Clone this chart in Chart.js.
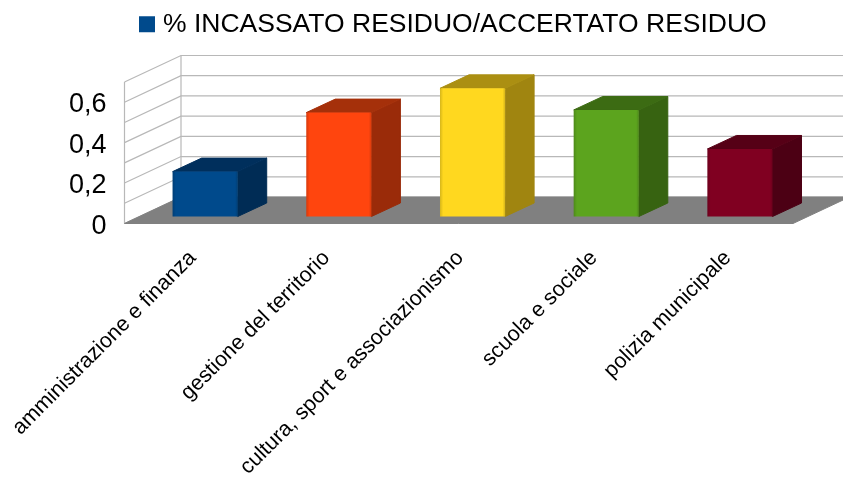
<!DOCTYPE html>
<html>
<head>
<meta charset="utf-8">
<title>% incassato residuo</title>
<script src="https://cdn.jsdelivr.net/npm/chart.js@4/dist/chart.umd.min.js"></script>
<style>
  html, body { margin: 0; padding: 0; background: #fff; }
  canvas { display: block; }
</style>
</head>
<body>
<canvas id="chart" width="843" height="482"></canvas>
<script>
const seriesName = '% INCASSATO RESIDUO/ACCERTATO RESIDUO';
const categories = [
  'amministrazione e finanza',
  'gestione del territorio',
  'cultura, sport e associazionismo',
  'scuola e sociale',
  'polizia municipale'
];
const values = [0.222, 0.514, 0.634, 0.527, 0.334];

const frontColors = ['#004a8c', '#ff450e', '#ffd81f', '#5ca41e', '#800021'];
const sideColors = ['#002c55', '#9a2b09', '#a08510', '#376311', '#4c0014'];
const topColors = ['#002f5c', '#a5300a', '#ab8f12', '#3c6b13', '#560016'];

const font = 'Liberation Sans, Arial, sans-serif';
const gridColor = '#b8b8b8';
const floorColor = '#808080';

// oblique offset of the back wall from the front plane, and of the bars
const wallDx = 56.5, wallDy = -26.5;
const barDx = 13.8, barDy = -7;
const depthDx = 29, depthDy = -13.5;

function poly(c, pts, fill) {
  c.beginPath();
  pts.forEach((p, i) => i ? c.lineTo(p[0], p[1]) : c.moveTo(p[0], p[1]));
  c.closePath();
  c.fillStyle = fill;
  c.fill();
  c.strokeStyle = fill;
  c.lineWidth = 1;
  c.lineJoin = 'round';
  c.stroke();
}

const box3d = {
  id: 'box3d',
  beforeInit(chart) {
    // keep the plot top fixed under the legend
    const fit = chart.legend.fit;
    chart.legend.fit = function () {
      fit.call(this);
      this.height = 82;
    };
  },
  afterLayout(chart) {
    chart.legend.left += 59;
    chart.legend.right += 59;
  },
  beforeDatasetsDraw(chart) {
    const c = chart.ctx;
    const a = chart.chartArea;
    const y = chart.scales.y;
    const y0 = y.getPixelForValue(0);

    c.save();
    // walls and grid
    c.strokeStyle = gridColor;
    c.lineWidth = 1.2;
    y.ticks.forEach(t => {
      const py = y.getPixelForValue(t.value);
      c.beginPath();
      c.moveTo(a.left, py);
      c.lineTo(a.left + wallDx, py + wallDy);
      c.lineTo(a.right + wallDx, py + wallDy);
      c.stroke();
    });
    c.beginPath();
    c.moveTo(a.left, a.top);
    c.lineTo(a.left, y0);
    c.moveTo(a.left + wallDx, a.top + wallDy);
    c.lineTo(a.left + wallDx, y0 + wallDy);
    c.stroke();

    // floor
    poly(c, [
      [a.left, y0],
      [a.left + wallDx, y0 + wallDy],
      [a.right + wallDx, y0 + wallDy],
      [a.right, y0]
    ], floorColor);

    // bars sit in the middle of the depth
    c.translate(barDx, barDy);
    chart.getDatasetMeta(0).data.forEach((bar, i) => {
      const l = bar.x - bar.width / 2, r = bar.x + bar.width / 2;
      poly(c, [
        [r, bar.y], [r + depthDx, bar.y + depthDy],
        [r + depthDx, bar.base + depthDy], [r, bar.base]
      ], sideColors[i]);
      poly(c, [
        [l, bar.y], [l + depthDx, bar.y + depthDy],
        [r + depthDx, bar.y + depthDy], [r, bar.y]
      ], topColors[i]);
    });
  },
  afterDatasetsDraw(chart) {
    const c = chart.ctx;
    // soft darker edge on the front faces
    chart.getDatasetMeta(0).data.forEach(bar => {
      const l = bar.x - bar.width / 2, r = bar.x + bar.width / 2;
      const g = c.createLinearGradient(l, 0, r, 0);
      g.addColorStop(0, 'rgba(0,0,0,0.16)');
      g.addColorStop(0.05, 'rgba(0,0,0,0)');
      g.addColorStop(0.96, 'rgba(0,0,0,0)');
      g.addColorStop(1, 'rgba(0,0,0,0.16)');
      c.fillStyle = g;
      c.fillRect(l, bar.y, r - l, bar.base - bar.y);
    });
    c.restore();
  }
};

new Chart(document.getElementById('chart'), {
  type: 'bar',
  data: {
    labels: categories,
    datasets: [{
      label: seriesName,
      data: values,
      backgroundColor: frontColors,
      barPercentage: 0.487,
      categoryPercentage: 1,
      borderRadius: 1,
      clip: false
    }]
  },
  plugins: [box3d],
  options: {
    responsive: false,
    animation: false,
    layout: { padding: { left: 0, right: 50, top: 0, bottom: 0 } },
    plugins: {
      tooltip: { enabled: false },
      legend: {
        position: 'top',
        labels: {
          color: '#000',
          font: { family: font, size: 26.5 },
          // thick stroke makes the small box 16px wide, closer to the text
          boxWidth: 5.5,
          boxHeight: 5.5,
          padding: 11,
          generateLabels: () => [{
            text: seriesName,
            fillStyle: frontColors[0],
            strokeStyle: frontColors[0],
            lineWidth: 10.5,
            datasetIndex: 0
          }]
        }
      }
    },
    scales: {
      x: {
        grid: { display: false },
        border: { display: false },
        ticks: {
          color: '#000',
          autoSkip: false,
          minRotation: 45,
          maxRotation: 45,
          padding: 14,
          labelOffset: 1.5,
          font: { family: font, size: 21.5 }
        },
        afterFit: s => {
          s.height = 258.5;
          s.paddingLeft = 0;
          s.paddingRight = 0;
        }
      },
      y: {
        min: 0,
        max: 0.7,
        grid: { display: false },
        border: { display: false },
        ticks: {
          color: '#000',
          stepSize: 0.1,
          autoSkip: false,
          padding: 10,
          // two lines with a tiny line height push the text a little lower
          font: { family: font, size: 27, lineHeight: 0.2 },
          callback: v => {
            const n = Math.round(v * 10);
            return n % 2 === 0 ? ['', String(n / 10).replace('.', ',')] : '';
          }
        },
        afterFit: s => { s.width = 124.5; }
      }
    }
  }
});
</script>
</body>
</html>
